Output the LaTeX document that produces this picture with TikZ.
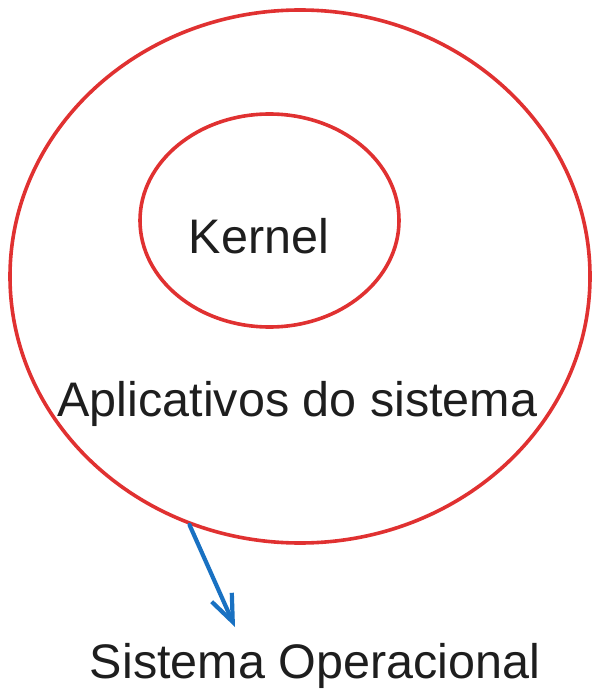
\documentclass[tikz,border=0pt]{standalone}
\usepackage{fontspec}
\setmainfont{Liberation Sans}
\usetikzlibrary{shapes.geometric,arrows.meta}
\definecolor{ringred}{HTML}{E03131}
\definecolor{arrowblue}{HTML}{1971C2}
\definecolor{inkgray}{HTML}{1E1E1E}

\begin{document}
\begin{tikzpicture}[x=1pt,y=-1pt,
			ring/.style={ellipse, draw=ringred, line width=3.6pt, inner sep=0pt},
			label/.style={text=inkgray, font=\fontsize{48.5}{58}\selectfont, inner sep=0pt, anchor=base},
			pointer/.style={draw=arrowblue, line width=4.2pt, line cap=round, line join=round,
				-{Straight Barb[length=27pt,width=22pt,line width=4.2pt]}}
		]
		\useasboundingbox (0,0) rectangle (599,700);
		% camadas
		\node[ring, minimum width=580pt, minimum height=533pt] (outer) at (300,276.5) {};
		\node[ring, minimum width=259pt, minimum height=213pt] (inner) at (269.5,220.5) {};
		% textos
		\node[label] (kernel) at (259,254) {Kernel};
		\node[label] (apps) at (297.5,416) {Aplicativos do sistema};
		\node[label] (so) at (315,678) {Sistema Operacional};
		\coordinate (tip) at (235,627);

		\draw[pointer] (outer.246.5) -- (tip);
		\end{tikzpicture}
\end{document}
